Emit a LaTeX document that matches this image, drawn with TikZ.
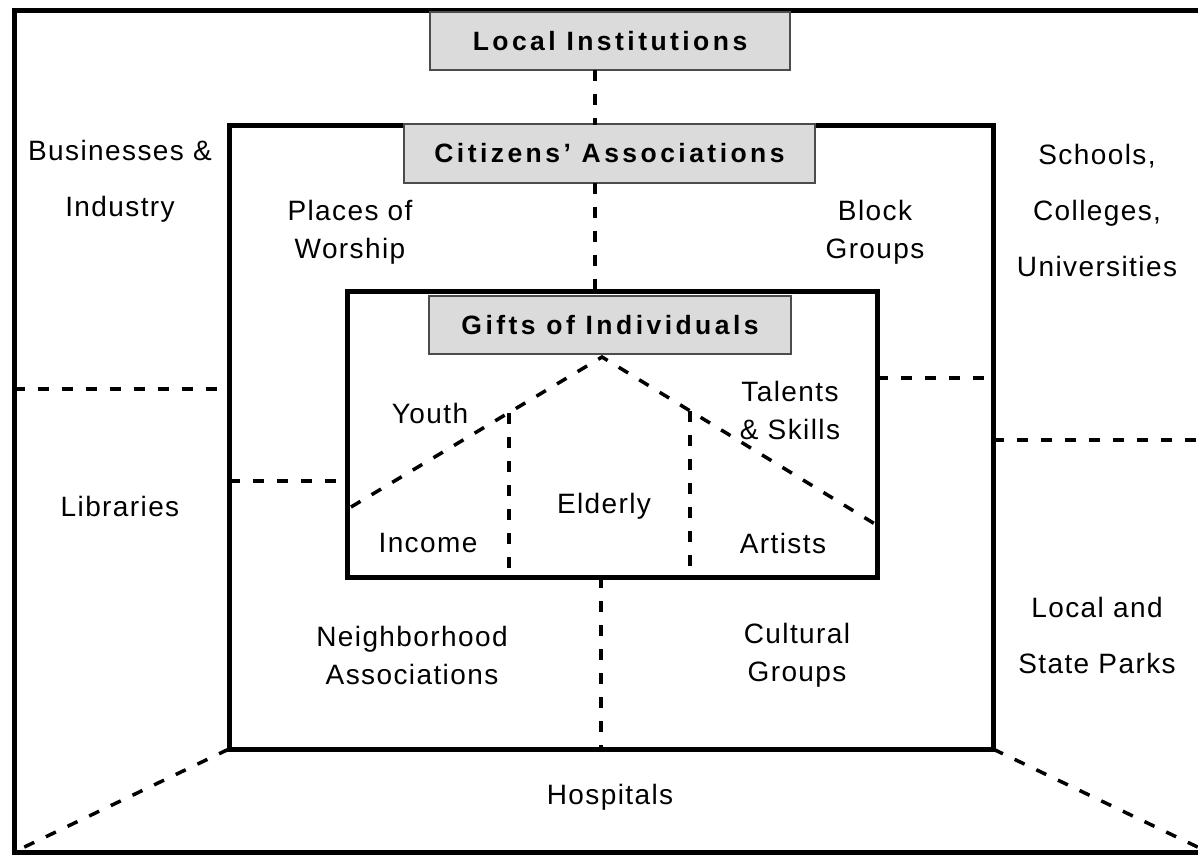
\documentclass[tikz,border=0pt]{standalone}
\usepackage{fontspec}
\setmainfont{Liberation Sans}
\usetikzlibrary{positioning}

\begin{document}
\begin{tikzpicture}[x=1pt, y=-1pt]
\tikzstyle{every node}=[inner sep=0pt, align=center, font=\fontsize{28}{38}\selectfont\addfontfeatures{LetterSpace=5}];
\tikzstyle{frame}=[draw, line width=5pt];
\tikzstyle{wide}=[font=\fontsize{28}{56}\selectfont\addfontfeatures{LetterSpace=5}];
\tikzstyle{title}=[draw=black!70, line width=1.5pt, fill=black!14, font=\bfseries\fontsize{26.5}{30}\selectfont\addfontfeatures{LetterSpace=13}];
\tikzstyle{link}=[line width=3.5pt, dash pattern=on 11pt off 13pt];
\useasboundingbox (0,0) rectangle (1198,855);
% frames
\node[frame, minimum width=1191, minimum height=842] (outer) at (609.5,431) {};
\node[frame, minimum width=764, minimum height=624] (mid) at (611,437) {};
\node[frame, minimum width=530, minimum height=286] (inner) at (612,434) {};
% titles
\node[title, minimum width=360, minimum height=58] (loc) at (610,41) {Local Institutions};
\node[title, minimum width=411, minimum height=59] (cit) at (609.5,153.5) {Citizens' Associations};
\node[title, minimum width=362, minimum height=58] (gif) at (610,325) {Gifts of Individuals};
% joints
\coordinate (locfoot) at (595,70);
\coordinate (midtop) at (595,125);
\coordinate (citfoot) at (595,183);
\coordinate (innertop) at (595,291);
\coordinate (innerfoot) at (601,577);
\coordinate (midfoot) at (601,749);
\coordinate (outL) at (14,389);
\coordinate (midL) at (229,389);
\coordinate (midL2) at (229,481);
\coordinate (innerL) at (347,481);
\coordinate (innerR) at (877,378);
\coordinate (midR) at (993,378);
\coordinate (midR2) at (993,440);
\coordinate (outR) at (1205,440);
\coordinate (midSW) at (229,749);
\coordinate (outSW) at (14,852);
\coordinate (midSE) at (993,749);
\coordinate (outSE) at (1208,852);
\coordinate (apex) at (602,357);
\coordinate (roofL) at (351,507);
\coordinate (roofR) at (875,524);
\coordinate (postL) at (509,413);
\coordinate (postLfoot) at (509,577);
\coordinate (postR) at (690,411);
\coordinate (postRfoot) at (690,577);
% dashed links
\draw[link] (locfoot) -- (midtop);
\draw[link] (citfoot) -- (innertop);
\draw[link] (innerfoot) -- (midfoot);
\draw[link] (outL) -- (midL);
\draw[link] (midL2) -- (innerL);
\draw[link] (innerR) -- (midR);
\draw[link] (midR2) -- (outR);
\draw[link] (midSW) -- (outSW);
\draw[link] (midSE) -- (outSE);
\draw[link] (roofL) -- (apex) -- (roofR);
\draw[link] (postL) -- (postLfoot);
\draw[link] (postR) -- (postRfoot);
% labels
\node[wide] (business) at (120,181) {Businesses \&\\Industry};
\node[wide] (schools) at (1097,210) {Schools,\\Colleges,\\Universities};
\node (libraries) at (120,506) {Libraries};
\node[wide] (parks) at (1097,635) {Local and\\State Parks};
\node (hospitals) at (610,797) {Hospitals};
\node (worship) at (350,232) {Places of\\Worship};
\node (block) at (875,232) {Block\\Groups};
\node (neighbor) at (412,655) {Neighborhood\\Associations};
\node (cultural) at (797,655) {Cultural\\Groups};
\node (youth) at (430,413) {Youth};
\node (talents) at (790,410) {Talents\\\& Skills};
\node (elderly) at (604,506) {Elderly};
\node (income) at (428,543) {Income};
\node (artists) at (783,543) {Artists};
\end{tikzpicture}
\end{document}
